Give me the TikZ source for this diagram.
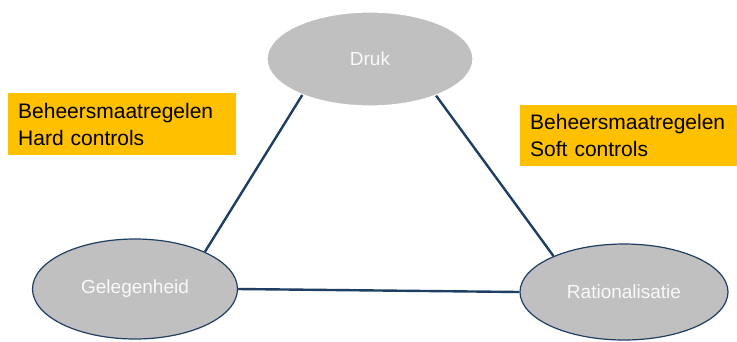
\documentclass[tikz,border=0pt]{standalone}
\usepackage{fontspec}
\setmainfont{Liberation Sans}
\usetikzlibrary{shapes.geometric}
\definecolor{ellgray}{HTML}{C0C0C0}
\definecolor{edgeblue}{HTML}{1F3F62}
\definecolor{boxorange}{HTML}{FFC000}
\begin{document}
\begin{tikzpicture}[x=1pt,y=-1pt,
  ell/.style={ellipse, fill=ellgray, draw=edgeblue, line width=1.2pt, inner sep=0pt,
    font=\fontsize{19}{22}\selectfont, text=white!95!gray},
  conn/.style={draw=edgeblue, line width=2.4pt},
  lbl/.style={fill=boxorange, align=left, anchor=north west, inner sep=0pt,
    font=\fontsize{21}{27}\selectfont, text=black}]
\useasboundingbox (0,0) rectangle (737,341);
\node[ell, draw=white, minimum width=206pt, minimum height=94pt] (druk) at (370,59) {Druk};
\node[ell, minimum width=205pt, minimum height=100pt] (geleg) at (135,289) {Gelegenheid};
\node[ell, minimum width=208pt, minimum height=96pt] (ratio) at (624,292) {Rationalisatie};
\draw[conn] (druk.208) -- (geleg.28);
\draw[conn] (druk.-29) -- (ratio.153);
\draw[conn] (geleg.east) -- (ratio.west);
\node[lbl, minimum width=228pt, minimum height=62pt, text width=228pt] (hard) at (8,93)
  {\hspace*{10pt}Beheersmaatregelen\\\hspace*{10pt}Hard controls};
\node[lbl, minimum width=217pt, minimum height=61pt, text width=217pt] (soft) at (520,105)
  {\hspace*{10pt}Beheersmaatregelen\\\hspace*{10pt}Soft controls};
\end{tikzpicture}
\end{document}
